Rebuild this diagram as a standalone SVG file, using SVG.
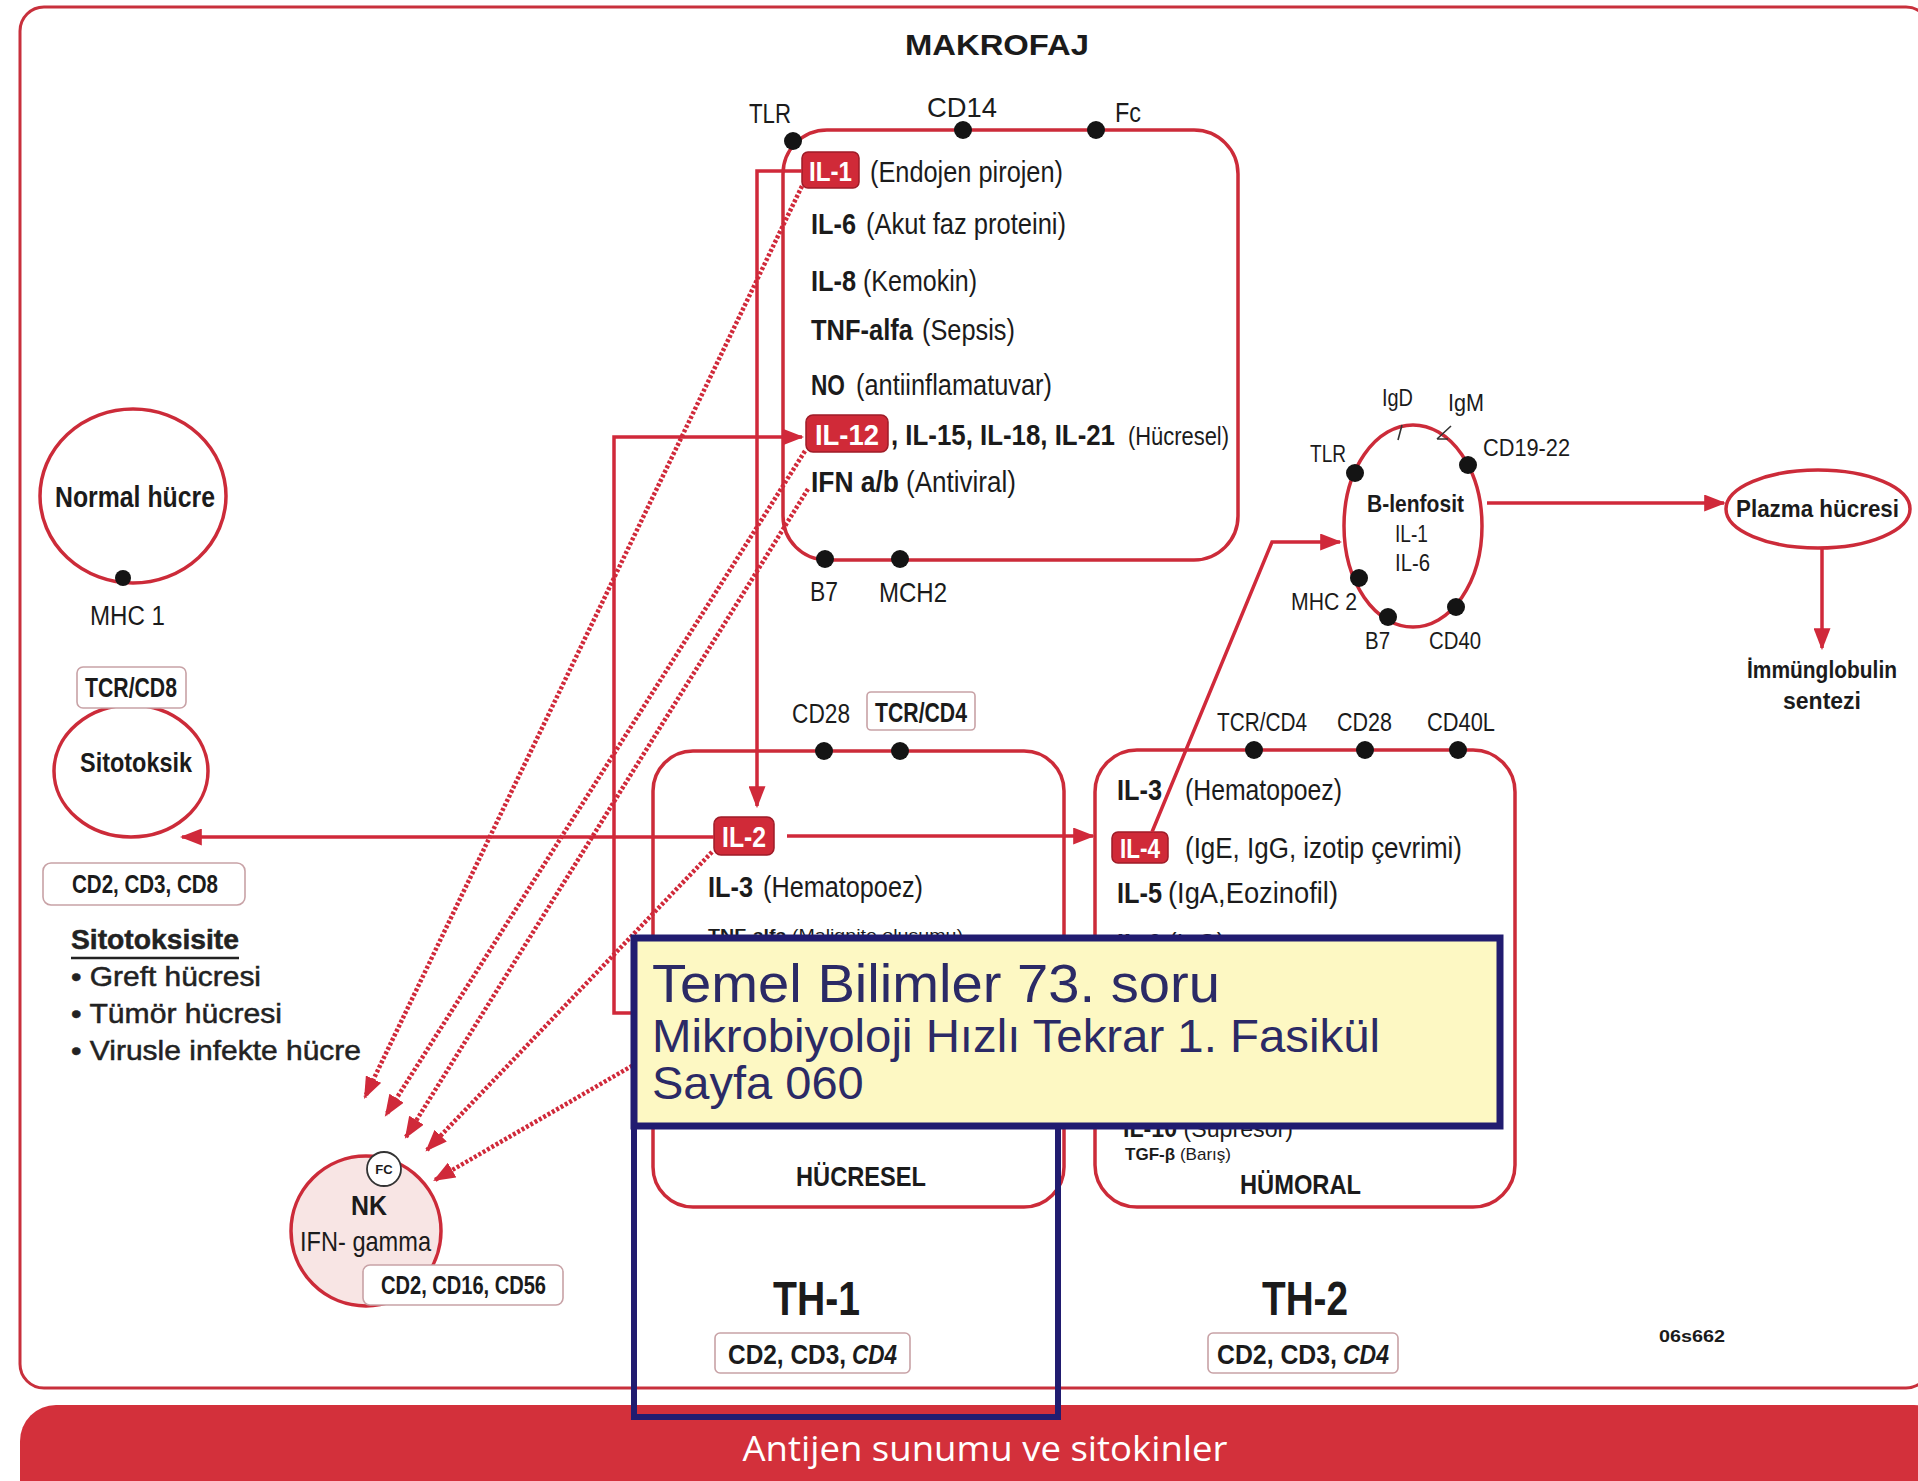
<svg xmlns="http://www.w3.org/2000/svg" width="1918" height="1481" viewBox="0 0 1918 1481">
<defs>
<style>
.t{font-family:'Liberation Sans Narrow','Liberation Sans',Arial,sans-serif;fill:#1b1b1b}
.b{font-weight:bold}
.i{font-style:italic}
.w{font-family:'Liberation Sans Narrow','Liberation Sans',Arial,sans-serif;fill:#fff;font-weight:bold}
.s{font-family:'Liberation Sans',Arial,sans-serif;fill:#222;stroke:#222;stroke-width:0.5}
.cell{fill:none;stroke:#cc2b39;stroke-width:3.5}
.tag{fill:#fff;stroke:#c8a2a6;stroke-width:1.6}
.il{fill:#d02a38;stroke:#9e1b27;stroke-width:1.5}
.dot{fill:#141414}
.ln{fill:none;stroke:#d0293a;stroke-width:3.5}
.dl{fill:none;stroke:#d0293a;stroke-width:4.5;stroke-dasharray:3 2}
.m{font-family:'Liberation Sans',Arial,sans-serif;fill:#2b2a66}
</style>
<marker id="ah" viewBox="0 0 10 10" refX="9" refY="5" markerWidth="22" markerHeight="17" markerUnits="userSpaceOnUse" orient="auto" preserveAspectRatio="none"><path d="M0,0 L10,5 L0,10 z" fill="#d0293a"/></marker>
<marker id="ahd" viewBox="0 0 10 10" refX="9" refY="5" markerWidth="22" markerHeight="17" markerUnits="userSpaceOnUse" orient="auto" preserveAspectRatio="none"><path d="M0,0 L10,5 L0,10 z" fill="#d0293a"/></marker>
</defs>
<rect width="1918" height="1481" fill="#fff"/>
<g id="frame">
<rect x="20" y="7" width="1910" height="1381" rx="24" fill="none" stroke="#c8303c" stroke-width="3"/>
<text class="t b" x="905" y="55" font-size="30" textLength="184" lengthAdjust="spacingAndGlyphs">MAKROFAJ</text>
<text class="t b" x="1659" y="1342" font-size="17" textLength="66" lengthAdjust="spacingAndGlyphs">06s662</text>
</g>
<g id="banner">
<rect x="20" y="1405" width="1930" height="120" rx="36" fill="#d3303b"/>
<text x="985" y="1461" text-anchor="middle" font-family="'Open Sans','Liberation Sans',sans-serif" font-size="35" fill="#fff" textLength="485" lengthAdjust="spacingAndGlyphs">Antijen sunumu ve sitokinler</text>
</g>

<g id="makrofaj">
<rect class="cell" x="783" y="130" width="455" height="430" rx="44"/>
<circle class="dot" cx="793" cy="141" r="9"/>
<circle class="dot" cx="963" cy="130" r="9"/>
<circle class="dot" cx="1096" cy="130" r="9"/>
<circle class="dot" cx="825" cy="559" r="9"/>
<circle class="dot" cx="900" cy="559" r="9"/>
<text class="t" x="749" y="123" font-size="28" textLength="42" lengthAdjust="spacingAndGlyphs">TLR</text>
<text class="t" x="927" y="117" font-size="28" textLength="70" lengthAdjust="spacingAndGlyphs">CD14</text>
<text class="t" x="1115" y="122" font-size="28" textLength="26" lengthAdjust="spacingAndGlyphs">Fc</text>
<text class="t" x="810" y="601" font-size="28" textLength="28" lengthAdjust="spacingAndGlyphs">B7</text>
<text class="t" x="879" y="602" font-size="28" textLength="68" lengthAdjust="spacingAndGlyphs">MCH2</text>
<rect class="il" x="802" y="152" width="57" height="36" rx="6"/>
<text class="w" x="809" y="181" font-size="28" textLength="43" lengthAdjust="spacingAndGlyphs">IL-1</text>
<text class="t" x="870" y="182" font-size="29" textLength="193" lengthAdjust="spacingAndGlyphs">(Endojen pirojen)</text>
<text class="t b" x="811" y="234" font-size="29" textLength="45" lengthAdjust="spacingAndGlyphs">IL-6</text>
<text class="t" x="866" y="234" font-size="29" textLength="200" lengthAdjust="spacingAndGlyphs">(Akut faz proteini)</text>
<text class="t b" x="811" y="291" font-size="29" textLength="45" lengthAdjust="spacingAndGlyphs">IL-8</text>
<text class="t" x="863" y="291" font-size="29" textLength="114" lengthAdjust="spacingAndGlyphs">(Kemokin)</text>
<text class="t b" x="811" y="340" font-size="29" textLength="102" lengthAdjust="spacingAndGlyphs">TNF-alfa</text>
<text class="t" x="922" y="340" font-size="29" textLength="93" lengthAdjust="spacingAndGlyphs">(Sepsis)</text>
<text class="t b" x="811" y="395" font-size="29" textLength="34" lengthAdjust="spacingAndGlyphs">NO</text>
<text class="t" x="856" y="395" font-size="29" textLength="196" lengthAdjust="spacingAndGlyphs">(antiinflamatuvar)</text>
<rect class="il" x="806" y="415" width="82" height="37" rx="7"/>
<text class="w" x="815" y="445" font-size="29" textLength="64" lengthAdjust="spacingAndGlyphs">IL-12</text>
<text class="t b" x="891" y="445" font-size="29" textLength="224" lengthAdjust="spacingAndGlyphs">, IL-15, IL-18, IL-21</text>
<text class="t" x="1128" y="445" font-size="25" textLength="101" lengthAdjust="spacingAndGlyphs">(Hücresel)</text>
<text class="t b" x="811" y="492" font-size="29" textLength="88" lengthAdjust="spacingAndGlyphs">IFN a/b</text>
<text class="t" x="906" y="492" font-size="29" textLength="110" lengthAdjust="spacingAndGlyphs">(Antiviral)</text>
</g>

<g id="normal-hucre">
<ellipse class="cell" cx="133" cy="496" rx="93" ry="87"/>
<circle class="dot" cx="123" cy="578" r="8"/>
<text class="t b" x="55" y="507" font-size="30" textLength="160" lengthAdjust="spacingAndGlyphs">Normal hücre</text>
<text class="t" x="90" y="625" font-size="27" textLength="75" lengthAdjust="spacingAndGlyphs">MHC 1</text>
</g>

<g id="sitotoksik">
<ellipse class="cell" cx="131" cy="771" rx="77" ry="66"/>
<rect class="tag" x="77" y="667" width="109" height="41" rx="6"/>
<text class="t b" x="85" y="697" font-size="27" textLength="92" lengthAdjust="spacingAndGlyphs">TCR/CD8</text>
<text class="t b" x="80" y="772" font-size="28" textLength="112" lengthAdjust="spacingAndGlyphs">Sitotoksik</text>
<rect class="tag" x="43" y="863" width="202" height="42" rx="8"/>
<text class="t b" x="72" y="893" font-size="25" textLength="146" lengthAdjust="spacingAndGlyphs">CD2, CD3, CD8</text>
<text class="s b" x="71" y="949" font-size="28" textLength="168" lengthAdjust="spacingAndGlyphs">Sitotoksisite</text>
<line x1="71" y1="958" x2="239" y2="958" stroke="#222" stroke-width="2.5"/>
<text class="s" x="71" y="986" font-size="28" textLength="190" lengthAdjust="spacingAndGlyphs">• Greft hücresi</text>
<text class="s" x="71" y="1023" font-size="28" textLength="211" lengthAdjust="spacingAndGlyphs">• Tümör hücresi</text>
<text class="s" x="71" y="1060" font-size="28" textLength="290" lengthAdjust="spacingAndGlyphs">• Virusle infekte hücre</text>
</g>

<g id="nk">
<circle cx="366" cy="1231" r="75" fill="#f8e5e4" stroke="#cc2b39" stroke-width="3.5"/>
<circle cx="384" cy="1169" r="17" fill="#fff" stroke="#333" stroke-width="1.8"/>
<text class="t b" x="384" y="1174" font-size="13" text-anchor="middle">FC</text>
<text class="t b" x="351" y="1215" font-size="28" textLength="36" lengthAdjust="spacingAndGlyphs">NK</text>
<text class="t" x="300" y="1251" font-size="28" textLength="131" lengthAdjust="spacingAndGlyphs">IFN- gamma</text>
<rect class="tag" x="363" y="1265" width="200" height="40" rx="7"/>
<text class="t b" x="381" y="1294" font-size="25" textLength="165" lengthAdjust="spacingAndGlyphs">CD2, CD16, CD56</text>
</g>

<g id="th1">
<rect class="cell" x="653" y="751" width="411" height="456" rx="40"/>
<circle class="dot" cx="824" cy="751" r="9"/>
<circle class="dot" cx="900" cy="751" r="9"/>
<text class="t" x="792" y="723" font-size="27" textLength="58" lengthAdjust="spacingAndGlyphs">CD28</text>
<rect class="tag" x="867" y="692" width="108" height="38" rx="4"/>
<text class="t b" x="875" y="722" font-size="27" textLength="92" lengthAdjust="spacingAndGlyphs">TCR/CD4</text>
<rect class="il" x="714" y="817" width="60" height="38" rx="7"/>
<text class="w" x="722" y="847" font-size="29" textLength="44" lengthAdjust="spacingAndGlyphs">IL-2</text>
<text class="t b" x="708" y="897" font-size="29" textLength="45" lengthAdjust="spacingAndGlyphs">IL-3</text>
<text class="t" x="763" y="897" font-size="29" textLength="160" lengthAdjust="spacingAndGlyphs">(Hematopoez)</text>
<text class="t" x="708" y="941" font-size="16" textLength="255" lengthAdjust="spacingAndGlyphs"><tspan font-weight="bold">TNF-alfa </tspan>(Malignite oluşumu)</text>
<text class="t b" x="796" y="1186" font-size="28" textLength="130" lengthAdjust="spacingAndGlyphs">HÜCRESEL</text>
<text class="t b" x="773" y="1315" font-size="48" textLength="87" lengthAdjust="spacingAndGlyphs">TH-1</text>
<rect class="tag" x="715" y="1333" width="195" height="40" rx="5"/>
<text class="t b" x="728" y="1364" font-size="27" textLength="118" lengthAdjust="spacingAndGlyphs">CD2, CD3,</text>
<text class="t b i" x="852" y="1364" font-size="27" textLength="45" lengthAdjust="spacingAndGlyphs">CD4</text>
</g>

<g id="th2">
<rect class="cell" x="1095" y="750" width="420" height="457" rx="42"/>
<circle class="dot" cx="1254" cy="750" r="9"/>
<circle class="dot" cx="1365" cy="750" r="9"/>
<circle class="dot" cx="1458" cy="750" r="9"/>
<text class="t" x="1217" y="731" font-size="26" textLength="90" lengthAdjust="spacingAndGlyphs">TCR/CD4</text>
<text class="t" x="1337" y="731" font-size="26" textLength="55" lengthAdjust="spacingAndGlyphs">CD28</text>
<text class="t" x="1427" y="731" font-size="26" textLength="68" lengthAdjust="spacingAndGlyphs">CD40L</text>
<text class="t b" x="1117" y="800" font-size="29" textLength="45" lengthAdjust="spacingAndGlyphs">IL-3</text>
<text class="t" x="1185" y="800" font-size="29" textLength="157" lengthAdjust="spacingAndGlyphs">(Hematopoez)</text>
<rect class="il" x="1112" y="832" width="56" height="31" rx="6"/>
<text class="w" x="1120" y="858" font-size="27" textLength="40" lengthAdjust="spacingAndGlyphs">IL-4</text>
<text class="t" x="1185" y="858" font-size="29" textLength="277" lengthAdjust="spacingAndGlyphs">(IgE, IgG, izotip çevrimi)</text>
<text class="t b" x="1117" y="903" font-size="29" textLength="45" lengthAdjust="spacingAndGlyphs">IL-5</text>
<text class="t" x="1168" y="903" font-size="29" textLength="170" lengthAdjust="spacingAndGlyphs">(IgA,Eozinofil)</text>
<text class="t" x="1117" y="954" font-size="29" textLength="108" lengthAdjust="spacingAndGlyphs"><tspan font-weight="bold">IL-6 </tspan>(IgG)</text>
<text class="t" x="1123" y="1137" font-size="24" textLength="170" lengthAdjust="spacingAndGlyphs"><tspan font-weight="bold">IL-10 </tspan>(Supresör)</text>
<text class="t" x="1125" y="1160" font-size="17" textLength="106" lengthAdjust="spacingAndGlyphs"><tspan font-weight="bold">TGF-β </tspan>(Barış)</text>
<text class="t b" x="1240" y="1194" font-size="28" textLength="121" lengthAdjust="spacingAndGlyphs">HÜMORAL</text>
<text class="t b" x="1262" y="1315" font-size="48" textLength="86" lengthAdjust="spacingAndGlyphs">TH-2</text>
<rect class="tag" x="1208" y="1333" width="190" height="40" rx="5"/>
<text class="t b" x="1217" y="1364" font-size="27" textLength="120" lengthAdjust="spacingAndGlyphs">CD2, CD3,</text>
<text class="t b i" x="1343" y="1364" font-size="27" textLength="46" lengthAdjust="spacingAndGlyphs">CD4</text>
</g>

<g id="b-lenfosit">
<ellipse class="cell" cx="1413" cy="526" rx="69" ry="101"/>
<circle class="dot" cx="1355" cy="473" r="9"/>
<circle class="dot" cx="1468" cy="465" r="9"/>
<circle class="dot" cx="1359" cy="578" r="9"/>
<circle class="dot" cx="1388" cy="617" r="9"/>
<circle class="dot" cx="1456" cy="607" r="9"/>
<path d="M1398,440 L1402,425 M1437,439 L1451,426 M1437,439 L1448,439" stroke="#333" stroke-width="1.6" fill="none"/>
<text class="t" x="1382" y="406" font-size="24" textLength="31" lengthAdjust="spacingAndGlyphs">IgD</text>
<text class="t" x="1448" y="411" font-size="24" textLength="36" lengthAdjust="spacingAndGlyphs">IgM</text>
<text class="t" x="1310" y="462" font-size="24" textLength="36" lengthAdjust="spacingAndGlyphs">TLR</text>
<text class="t" x="1483" y="456" font-size="24" textLength="87" lengthAdjust="spacingAndGlyphs">CD19-22</text>
<text class="t b" x="1367" y="512" font-size="23" textLength="97" lengthAdjust="spacingAndGlyphs">B-lenfosit</text>
<text class="t" x="1395" y="542" font-size="24" textLength="33" lengthAdjust="spacingAndGlyphs">IL-1</text>
<text class="t" x="1395" y="571" font-size="24" textLength="35" lengthAdjust="spacingAndGlyphs">IL-6</text>
<text class="t" x="1291" y="610" font-size="24" textLength="66" lengthAdjust="spacingAndGlyphs">MHC 2</text>
<text class="t" x="1365" y="649" font-size="24" textLength="25" lengthAdjust="spacingAndGlyphs">B7</text>
<text class="t" x="1429" y="649" font-size="24" textLength="52" lengthAdjust="spacingAndGlyphs">CD40</text>
</g>

<g id="plazma">
<ellipse class="cell" cx="1818" cy="509" rx="92" ry="39"/>
<text class="t b" x="1736" y="517" font-size="24" textLength="163" lengthAdjust="spacingAndGlyphs">Plazma hücresi</text>
</g>

<g id="immunglobulin">
<text class="t b" x="1822" y="678" font-size="23" text-anchor="middle" textLength="150" lengthAdjust="spacingAndGlyphs">İmmünglobulin</text>
<text class="t b" x="1822" y="709" font-size="23" text-anchor="middle" textLength="78" lengthAdjust="spacingAndGlyphs">sentezi</text>
</g>

<g id="connectors">
<path class="ln" d="M802,171 H757 V806" marker-end="url(#ah)"/>
<path class="ln" d="M680,1013 H614 V437 H802" marker-end="url(#ah)"/>
<path class="ln" d="M714,837 H182" marker-end="url(#ah)"/>
<path class="ln" d="M787,836 H1093" marker-end="url(#ah)"/>
<path class="ln" d="M1152,832 L1272,542 H1340" marker-end="url(#ah)"/>
<path class="ln" d="M1487,503 H1724" marker-end="url(#ah)"/>
<path class="ln" d="M1822,549 V648" marker-end="url(#ah)"/>
<path class="dl" d="M802,186 L365,1097" marker-end="url(#ahd)"/>
<path class="dl" d="M805,451 L386,1115" marker-end="url(#ahd)"/>
<path class="dl" d="M808,489 L406,1137" marker-end="url(#ahd)"/>
<path class="dl" d="M712,852 L427,1150" marker-end="url(#ahd)"/>
<path class="dl" d="M680,1038 L435,1180" marker-end="url(#ahd)"/>
</g>

<g id="note">
<rect x="634" y="938" width="424" height="479" fill="none" stroke="#211c70" stroke-width="6"/>
<rect x="634" y="938" width="866" height="188" fill="#fdf8c3" stroke="#211c70" stroke-width="7"/>
<text class="m" x="652" y="1002" font-size="54" textLength="568" lengthAdjust="spacingAndGlyphs">Temel Bilimler 73. soru</text>
<text class="m" x="652" y="1052" font-size="47" textLength="728" lengthAdjust="spacingAndGlyphs">Mikrobiyoloji Hızlı Tekrar 1. Fasikül</text>
<text class="m" x="652" y="1099" font-size="47">Sayfa 060</text>
</g>
</svg>
